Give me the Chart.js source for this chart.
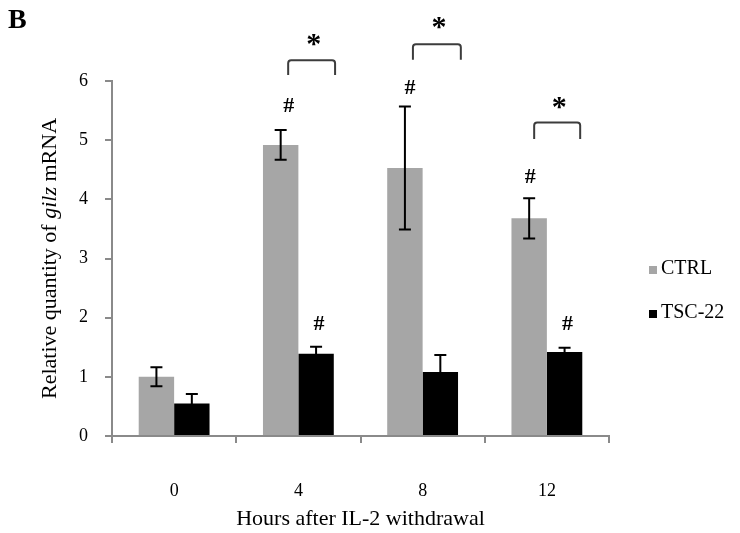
<!DOCTYPE html>
<html>
<head>
<meta charset="utf-8">
<script src="https://cdn.jsdelivr.net/npm/chart.js@4/dist/chart.umd.min.js"></script>
<style>
  html, body { margin: 0; padding: 0; background: #ffffff; }
  #wrap { width: 740px; height: 533px; position: relative; }
</style>
</head>
<body>
<div id="wrap"><canvas id="c"></canvas></div>
<script>
// Hours after IL-2 withdrawal
const hours = ['0', '4', '8', '12'];
// Relative gilz mRNA (mean and error)
const ctrlMean = [1.00, 4.92, 4.53, 3.68];
const ctrlErr  = [0.16, 0.25, 1.04, 0.34];
const tscMean  = [0.55, 1.39, 1.08, 1.42];
const tscErr   = [0.16, 0.12, 0.29, 0.07];
// '#' significance vs time 0
const ctrlHash = [false, true, true, true];
const tscHash  = [false, true, false, true];
// '*' CTRL vs TSC-22 comparisons (category indices)
const starGroups = [1, 2, 3];
const yTickValues = [0, 1, 2, 3, 4, 5, 6];

const SERIF = "'Liberation Serif', 'Times New Roman', serif";
const AXIS_GREY = '#8a8a8a';

// Placement of the annotation marks (pixels / value units)
const marks = {
  hashGap: [[0, 25, 19, 22], [0, 24, 0, 25]],
  hashDx:  [[0, 8, 5, 1],    [0, 3, 0, 3]],
  bracket: {
    1: { top: 6.35, foot: 6.10, star: 6.70, x0: 7.5, x1: 19 },
    2: { top: 6.62, foot: 6.36, star: 6.98, x0: 8,   x1: 20.5 },
    3: { top: 5.30, foot: 5.02, star: 5.62, x0: 5,   x1: 15.6 }
  }
};

function drawCentered(ctx, text, cx, cy) {
  const m = ctx.measureText(text);
  const asc = m.actualBoundingBoxAscent, desc = m.actualBoundingBoxDescent;
  const l = m.actualBoundingBoxLeft, r = m.actualBoundingBoxRight;
  ctx.textBaseline = 'alphabetic';
  ctx.textAlign = 'left';
  ctx.fillText(text, cx - (r - l) / 2, cy + (asc - desc) / 2);
}

const errorBars = {
  id: 'errorBars',
  afterDatasetsDraw(chart) {
    const ctx = chart.ctx;
    const y = chart.scales.y;
    const errs = [ctrlErr, tscErr];
    const means = [ctrlMean, tscMean];
    ctx.save();
    ctx.strokeStyle = '#000000';
    ctx.lineWidth = 2;
    for (let d = 0; d < 2; d++) {
      const meta = chart.getDatasetMeta(d);
      meta.data.forEach((bar, i) => {
        const x = bar.x;
        const hi = y.getPixelForValue(means[d][i] + errs[d][i]);
        const lo = y.getPixelForValue(means[d][i] - errs[d][i]);
        ctx.beginPath();
        ctx.moveTo(x, hi); ctx.lineTo(x, lo);
        ctx.moveTo(x - 6, hi); ctx.lineTo(x + 6, hi);
        ctx.moveTo(x - 6, lo); ctx.lineTo(x + 6, lo);
        ctx.stroke();
      });
    }
    ctx.restore();
  }
};

const annotations = {
  id: 'annotations',
  afterDraw(chart) {
    const ctx = chart.ctx;
    const y = chart.scales.y;
    const area = chart.chartArea;
    ctx.save();
    ctx.fillStyle = '#000000';

    // '#' marks
    ctx.font = 'bold 22px ' + SERIF;
    const flags = [ctrlHash, tscHash];
    const means = [ctrlMean, tscMean];
    const errs = [ctrlErr, tscErr];
    for (let d = 0; d < 2; d++) {
      const meta = chart.getDatasetMeta(d);
      meta.data.forEach((bar, i) => {
        if (!flags[d][i]) return;
        const top = y.getPixelForValue(means[d][i] + errs[d][i]);
        drawCentered(ctx, '#', bar.x + marks.hashDx[d][i], top - marks.hashGap[d][i]);
      });
    }

    // brackets with '*'
    const c0 = chart.getDatasetMeta(0).data;
    const c1 = chart.getDatasetMeta(1).data;
    starGroups.forEach(g => {
      const b = marks.bracket[g];
      const xl = c0[g].x + b.x0;
      const xr = c1[g].x + b.x1;
      const yt = y.getPixelForValue(b.top);
      const yf = y.getPixelForValue(b.foot);
      const r = 3;
      ctx.strokeStyle = '#3c3c3c';
      ctx.lineWidth = 2;
      ctx.beginPath();
      ctx.moveTo(xl, yf);
      ctx.lineTo(xl, yt + r);
      ctx.quadraticCurveTo(xl, yt, xl + r, yt);
      ctx.lineTo(xr - r, yt);
      ctx.quadraticCurveTo(xr, yt, xr, yt + r);
      ctx.lineTo(xr, yf);
      ctx.stroke();
      ctx.font = 'bold 30px ' + SERIF;
      drawCentered(ctx, '*', (xl + xr) / 2 + 2, y.getPixelForValue(b.star));
    });

    // y axis title with italic gene name
    const parts = [
      { t: 'Relative quantity of ', f: '22px ' + SERIF },
      { t: 'gilz', f: 'italic 22px ' + SERIF },
      { t: ' mRNA', f: '22px ' + SERIF }
    ];
    let total = 0;
    parts.forEach(p => { ctx.font = p.f; p.w = ctx.measureText(p.t).width; total += p.w; });
    ctx.translate(y.left + 50, (area.top + area.bottom) / 2);
    ctx.rotate(-Math.PI / 2);
    ctx.textBaseline = 'middle';
    ctx.textAlign = 'left';
    let px = -total / 2;
    parts.forEach(p => { ctx.font = p.f; ctx.fillText(p.t, px, 0); px += p.w; });
    ctx.setTransform(1, 0, 0, 1, 0, 0);

    // panel letter
    ctx.font = 'bold 28px ' + SERIF;
    ctx.textBaseline = 'alphabetic';
    ctx.fillText('B', 8, 28);

    // legend
    ctx.font = '20px ' + SERIF;
    chart.data.datasets.forEach((ds, i) => {
      const base = 274 + i * 44;
      ctx.fillStyle = ds.backgroundColor;
      ctx.fillRect(649, base - 8, 8, 8);
      ctx.fillStyle = '#000000';
      ctx.fillText(ds.label, 661, base);
    });
    ctx.restore();
  }
};

new Chart(document.getElementById('c'), {
  type: 'bar',
  data: {
    labels: hours,
    datasets: [
      { label: 'CTRL', data: ctrlMean, backgroundColor: '#a6a6a6', borderWidth: 0 },
      { label: 'TSC-22', data: tscMean, backgroundColor: '#000000', borderWidth: 0 }
    ]
  },
  options: {
    responsive: true,
    maintainAspectRatio: false,
    animation: false,
    devicePixelRatio: 1,
    layout: { padding: { top: 81, right: 131, left: 0, bottom: 0 } },
    datasets: { bar: { categoryPercentage: 0.57, barPercentage: 1.0 } },
    plugins: { legend: { display: false }, tooltip: { enabled: false } },
    scales: {
      x: {
        afterFit(s) { s.height = 97; },
        grid: { offset: true, drawOnChartArea: false, drawTicks: true, tickLength: 7, color: AXIS_GREY, lineWidth: 2 },
        border: { display: true, color: AXIS_GREY, width: 2 },
        ticks: { color: '#000000', padding: 37, font: { family: SERIF, size: 18 } },
        title: { display: true, text: 'Hours after IL-2 withdrawal', color: '#000000', padding: { top: 0, bottom: 1 }, font: { family: SERIF, size: 22 } }
      },
      y: {
        min: 0,
        max: 6,
        afterFit(s) { s.width = 112; },
        afterBuildTicks(s) { s.ticks = yTickValues.map(v => ({ value: v })); },
        grid: { drawOnChartArea: false, drawTicks: true, tickLength: 7, color: AXIS_GREY, lineWidth: 2 },
        border: { display: true, color: AXIS_GREY, width: 2 },
        ticks: { color: '#000000', padding: 17, font: { family: SERIF, size: 18 } }
      }
    }
  },
  plugins: [errorBars, annotations]
});
</script>
</body>
</html>
